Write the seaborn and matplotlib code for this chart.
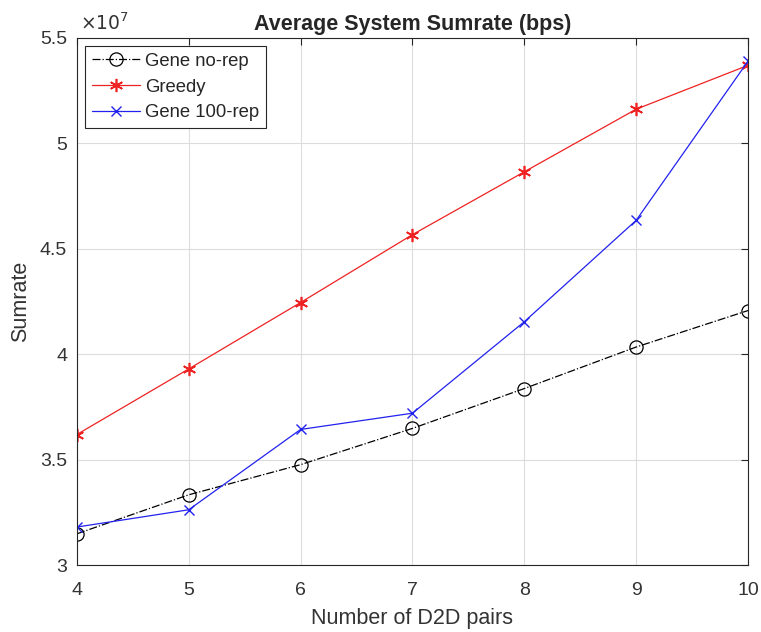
import numpy as np
import pandas as pd
import matplotlib
matplotlib.use('Agg')
import matplotlib.pyplot as plt
from matplotlib.ticker import FuncFormatter
import seaborn as sns

pairs = [4, 5, 6, 7, 8, 9, 10]
gene_norep = [3.148e7, 3.333e7, 3.476e7, 3.648e7, 3.837e7, 4.034e7, 4.207e7]
greedy = [3.619e7, 3.93e7, 4.245e7, 4.567e7, 4.865e7, 5.162e7, 5.37e7]
gene_100rep = [3.18e7, 3.262e7, 3.643e7, 3.72e7, 4.154e7, 4.635e7, 5.39e7]

sns.set_style('white')
plt.rcParams['font.family'] = ['Liberation Sans', 'DejaVu Sans']

df = pd.DataFrame({'pairs': pairs, 'Gene no-rep': gene_norep,
                   'Greedy': greedy, 'Gene 100-rep': gene_100rep})

fig = plt.figure(figsize=(7.61, 6.32), dpi=100)
ax = fig.add_axes([0.101, 0.106, 0.882, 0.834])

sns.lineplot(data=df, x='pairs', y='Gene no-rep', ax=ax, color='black', lw=0.9,
             linestyle='-.', marker='o', markersize=9.5, markerfacecolor='none',
             markeredgecolor='black', markeredgewidth=0.9, label='Gene no-rep')
sns.lineplot(data=df, x='pairs', y='Greedy', ax=ax, color='#ee2222', lw=0.9,
             marker=(6, 2, 0), markersize=9.5, markeredgewidth=1.2,
             markeredgecolor='#ee2222', label='Greedy')
sns.lineplot(data=df, x='pairs', y='Gene 100-rep', ax=ax, color='#2222ee', lw=0.9,
             marker='x', markersize=7.5, markeredgewidth=1.0,
             markeredgecolor='#2222ee', label='Gene 100-rep')

ax.set_xlim(4, 10)
ax.set_ylim(3e7, 5.5e7)
ax.set_xticks(pairs)
ax.set_yticks(np.arange(3e7, 5.51e7, 0.5e7))
ax.yaxis.set_major_formatter(FuncFormatter(lambda v, p: '%g' % (v / 1e7)))
ax.grid(True, color='#dcdcdc', lw=0.8)
ax.tick_params(direction='in', length=5, width=0.8, top=True, right=True,
               labelsize=14, colors='#262626', labelcolor='#333333')
ax.tick_params(axis='x', pad=12)
ax.tick_params(axis='y', pad=7)
for s in ax.spines.values():
    s.set_color('#262626')
    s.set_linewidth(0.8)

ax.text(0.004, 1.008, r'$\times 10^7$', transform=ax.transAxes, fontsize=13.5,
        ha='left', va='bottom', color='#333333')
ax.set_title('Average System Sumrate (bps)', fontsize=15.5, fontweight='bold', pad=6)
ax.set_xlabel('Number of D2D pairs', fontsize=15.5, color='#333333', labelpad=7)
ax.set_ylabel('Sumrate', fontsize=15.5, color='#333333', labelpad=6)

leg = ax.legend(loc='upper left', fontsize=13.3, frameon=True, fancybox=False,
                edgecolor='#262626', framealpha=1, borderaxespad=0.45,
                handlelength=2.6, handletextpad=0.3, labelspacing=0.48,
                borderpad=0.35)
leg.get_frame().set_linewidth(0.8)

fig.savefig('out.png', dpi=100)
